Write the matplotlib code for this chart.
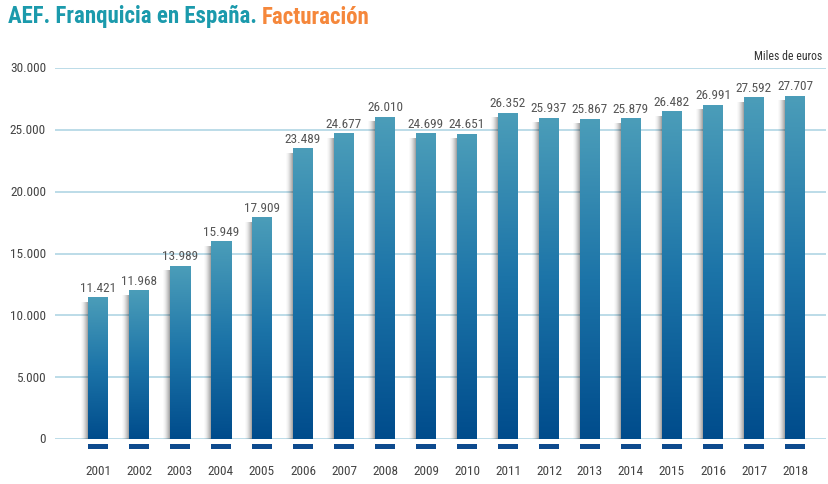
import numpy as np
import matplotlib
matplotlib.use("Agg")
from matplotlib import pyplot as plt
from matplotlib.patches import Rectangle
from matplotlib.colors import LinearSegmentedColormap

years = [str(y) for y in range(2001, 2019)]
facturacion = [11421, 11968, 13989, 15949, 17909, 23489, 24677, 26010, 24699,
               24651, 26352, 25937, 25867, 25879, 26482, 26991, 27592, 27707]
value_labels = ["11.421", "11.968", "13.989", "15.949", "17.909", "23.489", "24.677",
                "26.010", "24.699", "24.651", "26.352", "25.937", "25.867", "25.879",
                "26.482", "26.991", "27.592", "27.707"]
yticks = [0, 5000, 10000, 15000, 20000, 25000, 30000]
ytick_labels = ["0", "5.000", "10.000", "15.000", "20.000", "25.000", "30.000"]

plt.rcParams['font.family'] = ['Roboto Condensed', 'DejaVu Sans']

W, H = 829, 485
fig = plt.figure(figsize=(W / 100, H / 100), dpi=100)
# axes in pixel coords: left 55, right 826, top 69, bottom 440
ax = fig.add_axes([55 / W, (H - 440) / H, (826 - 55) / W, (440 - 69) / H])
x0, step = 98, 41
ax.axis("off")

px_y = 30000 / 371.0  # data units per pixel vertically
px_x = 1 / step

grid_c = "#a9d2e2"
for t in yticks:
    ax.axhline(t, color=grid_c, lw=1.1, zorder=1)

cmap = LinearSegmentedColormap.from_list("bar", ["#004c8c", "#1c74a8", "#4b9db9"])
bw = 20 * px_x
xs = np.arange(len(years))
for i, v in enumerate(facturacion):
    # soft shadow on the left
    for k, a in zip(range(1, 8), [0.10, 0.085, 0.07, 0.055, 0.04, 0.028, 0.018]):
        ax.add_patch(Rectangle((xs[i] - bw / 2 - k * px_x, 0), bw, v - 4 * px_y,
                               color="black", alpha=a, lw=0, zorder=2))
    grad = np.linspace(0, 1, 200).reshape(-1, 1)
    ax.imshow(grad, cmap=cmap, vmin=0, vmax=1, origin="lower", aspect="auto",
              extent=[xs[i] - bw / 2, xs[i] + bw / 2, 0, v], zorder=3,
              interpolation="bilinear")
    ax.text(xs[i], v + 4 * px_y, value_labels[i], ha="center", va="bottom",
            fontsize=9.5, color="#555555", zorder=4)
    ax.add_patch(Rectangle((xs[i] - bw / 2, -10 * px_y), bw, 5 * px_y,
                           color="#0d4a8e", lw=0, clip_on=False, zorder=3))
    ax.text(xs[i], -32 * px_y, years[i], ha="center", va="center",
            fontsize=9.5, color="#444444")

ax.set_xlim((55 - x0) / step, (826 - x0) / step)
ax.set_ylim(0, 30000)

for t, lab in zip(yticks, ytick_labels):
    ax.text((46 - x0) / step, t, lab, ha="right", va="center",
            fontsize=9.5, color="#444444")

ax.text((822 - x0) / step, 30000 + 6 * px_y, "Miles de euros", ha="right",
        va="bottom", fontsize=8.5, color="#333333")

t1 = fig.text(8 / W, 1 - 17 / H, "AEF. Franquicia en España. ", fontsize=16.5,
              color="#1b9aac", fontweight="bold", va="center")
fig.canvas.draw()
bb = t1.get_window_extent()
fig.text(bb.x1 / W, 1 - 17 / H, "Facturación", fontsize=16.5, color="#f5873b",
         fontweight="bold", va="center")

fig.savefig("out.png", dpi=100)
